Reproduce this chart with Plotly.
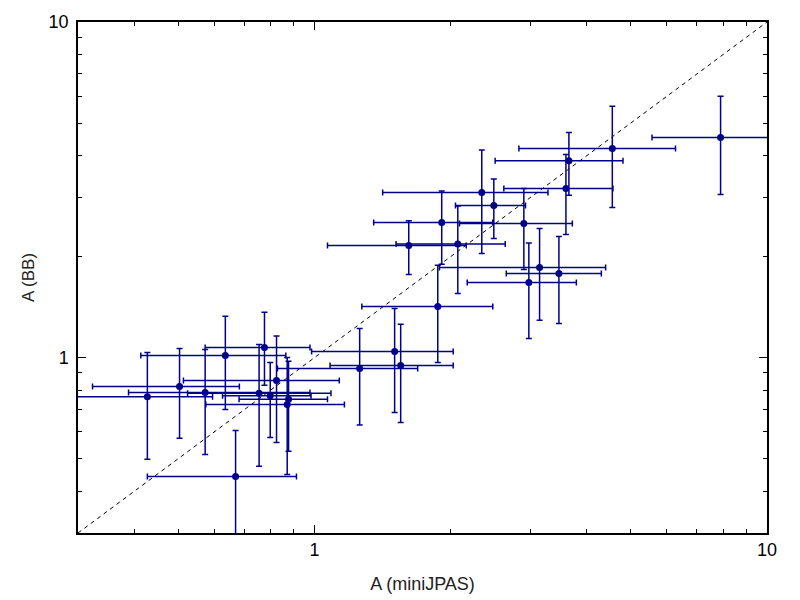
import math
import plotly.graph_objects as go

# A (miniJPAS) values and their lower / upper bounds
x_val = [0.427, 0.503, 0.573, 0.635, 0.669, 0.754, 0.775, 0.798, 0.824, 0.870, 0.876,
         1.258, 1.503, 1.550, 1.872, 1.615, 1.910, 2.073, 2.342, 2.490, 2.901, 2.976,
         3.143, 3.468, 3.594, 3.649, 4.551, 7.896]
x_lo = [0.290, 0.323, 0.388, 0.413, 0.427, 0.524, 0.573, 0.626, 0.513, 0.575, 0.681,
        0.828, 0.985, 1.082, 1.272, 1.068, 1.351, 1.514, 1.414, 2.049, 2.091, 2.175,
        1.888, 2.653, 2.620, 2.507, 2.829, 5.570]
x_hi = [0.595, 0.682, 0.977, 0.864, 0.912, 1.087, 0.977, 0.982, 1.134, 1.164, 1.068,
        1.690, 2.025, 2.025, 2.477, 2.164, 2.477, 2.639, 3.280, 2.926, 3.713, 3.790,
        4.399, 4.304, 4.566, 4.805, 6.278, 11.0]

# A (BB) values and their lower / upper bounds
y_val = [0.764, 0.820, 0.787, 1.014, 0.442, 0.783, 1.071, 0.769, 0.854, 0.724, 0.751,
         0.927, 1.042, 0.947, 1.419, 2.157, 2.525, 2.181, 3.102, 2.838, 2.508, 1.673,
         1.854, 1.780, 3.188, 3.859, 4.195, 4.524]
y_lo = [0.498, 0.575, 0.514, 0.700, 0.280, 0.474, 0.827, 0.578, 0.558, 0.448, 0.526,
        0.629, 0.686, 0.640, 0.966, 1.767, 1.897, 1.551, 2.041, 2.263, 1.829, 1.139,
        1.291, 1.263, 2.326, 3.045, 2.799, 3.059]
y_hi = [1.035, 1.064, 1.056, 1.328, 0.606, 1.093, 1.365, 0.966, 1.160, 1.000, 0.975,
        1.220, 1.400, 1.257, 1.884, 2.556, 3.136, 2.830, 4.155, 3.406, 3.188, 2.196,
        2.423, 2.294, 4.026, 4.682, 5.608, 6.006]

x_label = "A (miniJPAS)"
y_label = "A (BB)"
axis_range = [0.3, 10]
minor_vals = [0.3, 0.4, 0.5, 0.6, 0.7, 0.8, 0.9, 2, 3, 4, 5, 6, 7, 8, 9]

col = "#00008B"
font_fam = "Liberation Sans, Arial, sans-serif"

fig = go.Figure()

# 1:1 reference line
fig.add_trace(go.Scatter(
    x=axis_range, y=axis_range, mode="lines",
    line=dict(color="black", width=1, dash="4px,4px"),
    hoverinfo="skip", showlegend=False,
))

fig.add_trace(go.Scatter(
    x=x_val, y=y_val, mode="markers",
    marker=dict(color=col, size=7),
    error_x=dict(type="data", symmetric=False,
                 array=[h - v for h, v in zip(x_hi, x_val)],
                 arrayminus=[v - l for v, l in zip(x_val, x_lo)],
                 color=col, thickness=1.5, width=3),
    error_y=dict(type="data", symmetric=False,
                 array=[h - v for h, v in zip(y_hi, y_val)],
                 arrayminus=[v - l for v, l in zip(y_val, y_lo)],
                 color=col, thickness=1.5, width=3),
    showlegend=False,
))

lr = [math.log10(axis_range[0]), math.log10(axis_range[1])]

axis_common = dict(
    type="log", range=lr, automargin=False,
    showgrid=False, zeroline=False,
    showline=True, linecolor="black", linewidth=1.5, mirror="ticks",
    ticks="inside", ticklen=8, tickwidth=1, tickcolor="black",
    tickmode="array", tickvals=[1, 10], ticktext=["1", "10"],
    tickfont=dict(family=font_fam, size=18, color="black"),
    minor=dict(tickmode="array", tickvals=minor_vals, ticks="inside",
               ticklen=4, tickwidth=1, tickcolor="black", showgrid=False),
)

fig.update_xaxes(**axis_common,
                 title=dict(text=x_label, standoff=18,
                            font=dict(family=font_fam, size=18, color="#222")))
fig.update_yaxes(**axis_common, ticklabelstandoff=4,
                 title=dict(text=y_label, standoff=10,
                            font=dict(family=font_fam, size=17, color="#222")))

# page body adds an 8px offset; margins compensate so the plot box lands where the reference has it
fig.update_layout(
    width=800, height=600,
    margin=dict(l=70, r=41, t=14, b=75),
    plot_bgcolor="white", paper_bgcolor="white",
)

fig.write_html("out.html")
